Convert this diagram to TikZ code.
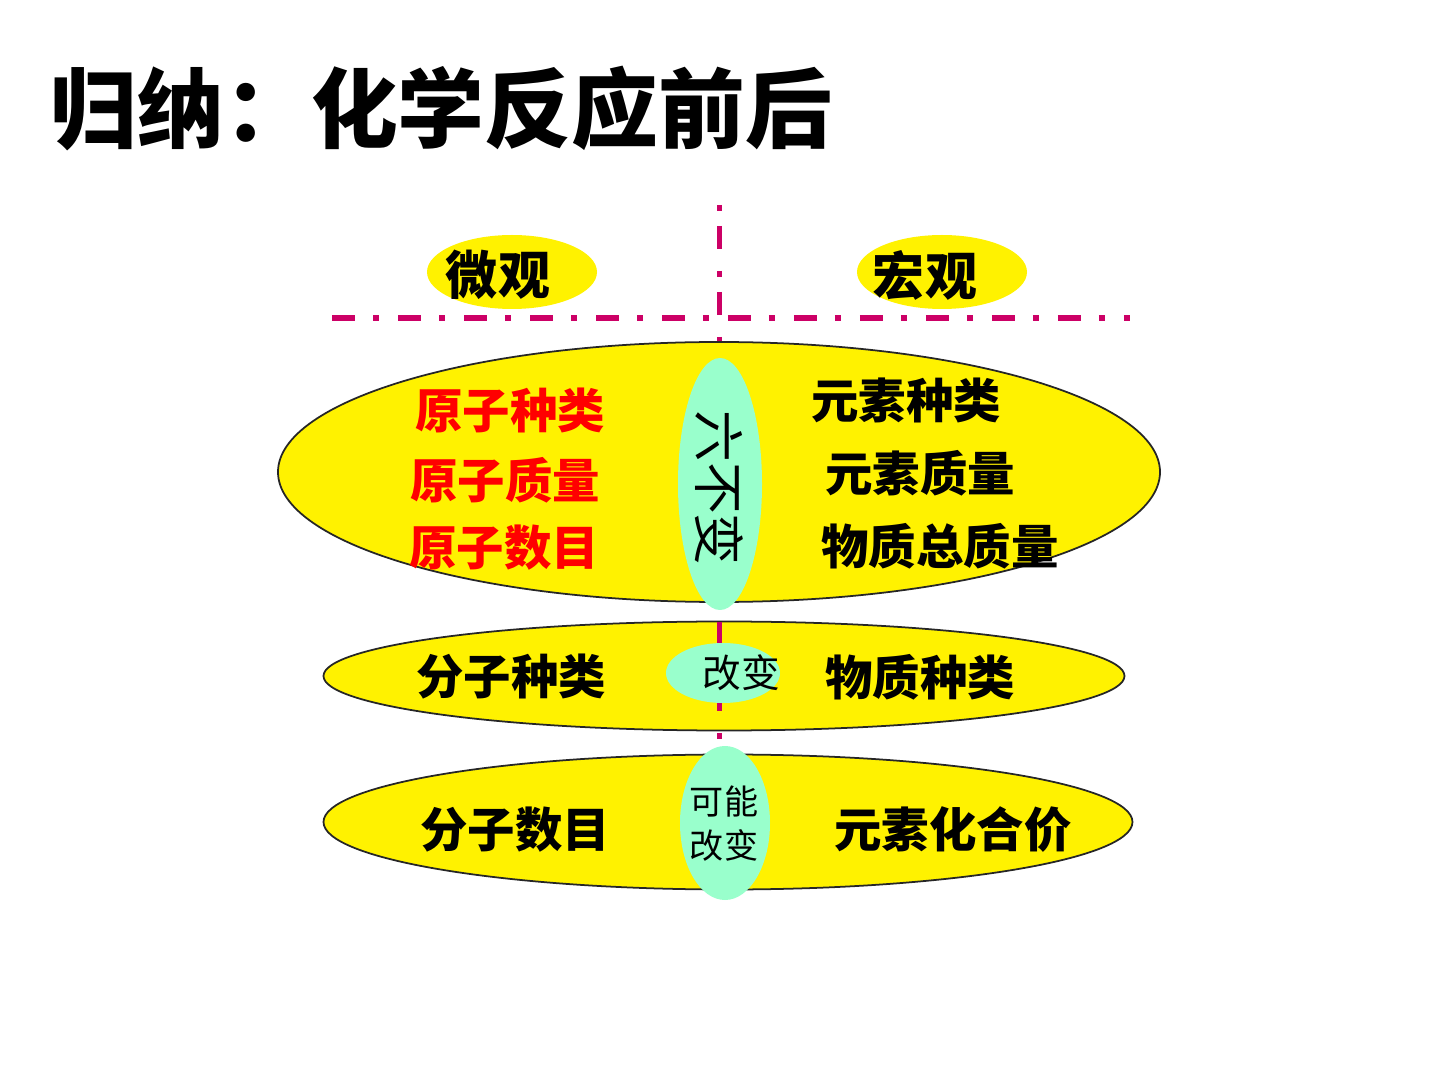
\documentclass[tikz,border=0pt]{standalone}
\usepackage{fontspec}
\newfontfamily\cjk{Noto Sans CJK SC}
\usetikzlibrary{shapes.geometric,positioning}
\definecolor{guide}{RGB}{204,0,102}
\definecolor{mint}{RGB}{153,255,204}

\begin{document}
\begin{tikzpicture}[
  disc/.style={draw=black!85, line width=0.5pt, ellipse, fill=yellow, inner sep=0pt},
  tag/.style={ellipse, fill=yellow, inner sep=0pt, minimum width=1.70cm, minimum height=0.74cm},
  lens/.style={ellipse, fill=mint, inner sep=0pt},
  head/.style={font=\cjk\bfseries\fontsize{14.8}{17}\selectfont, inner sep=0pt},
  item/.style={font=\cjk\bfseries\fontsize{13.5}{16}\selectfont, inner sep=0pt},
  redi/.style={item, text=red},
  word/.style={font=\cjk\fontsize{#1}{#1}\selectfont, inner sep=0pt},
  hline/.style={guide, line width=0.06cm, dash pattern=on 0.23cm off 0.18cm on 0.06cm off 0.19cm},
  vline/.style={guide, line width=0.05cm, dash pattern=on 0.06cm off 0.15cm on 0.23cm off 0.22cm}
]
\fill[white] (0,0) rectangle (14.4,-10.8);
\useasboundingbox (0,0) rectangle (14.4,-10.8);

% title
\node[font=\cjk\bfseries\fontsize{24.7}{30}\selectfont, inner sep=0pt, anchor=west] (title) at (0.50,-1.09) {归纳：化学反应前后};

% heads
\node[tag] (microtag) at (5.12,-2.72) {};
\node[tag] (macrotag) at (9.42,-2.72) {};
\node[head] (micro) at (4.98,-2.75) {微观};
\node[head] (macro) at (9.25,-2.75) {宏观};

% middle band sits under the guide lines
\node[disc, minimum width=8.01cm, minimum height=1.09cm] (mid) at (7.24,-6.76) {};

\coordinate (vtop) at (7.19,-2.05);
\coordinate (vbot) at (7.19,-7.39);
\coordinate (hl) at (3.32,-3.18);
\coordinate (hr) at (11.30,-3.18);
\draw[vline] (vtop) -- (vbot);
\draw[hline] (hl) -- (hr);

\node[disc, minimum width=8.82cm, minimum height=2.60cm] (big) at (7.19,-4.72) {};
\node[disc, minimum width=8.09cm, minimum height=1.35cm] (low) at (7.28,-8.22) {};

% centre lenses
\node[lens, minimum width=0.84cm, minimum height=2.52cm] (keep) at (7.20,-4.84) {};
\node[lens, minimum width=1.14cm, minimum height=0.60cm] (change) at (7.23,-6.73) {};
\node[lens, minimum width=0.90cm, minimum height=1.54cm] (maybe) at (7.25,-8.23) {};
\node[word=14.7, rotate=-90] (keeptxt) at (7.19,-4.88) {六不变};
\node[word=11] (changetxt) at (7.41,-6.73) {改变};
\node[word=9.7, align=center, font=\cjk\fontsize{9.7}{12.5}\selectfont] (maybetxt) at (7.24,-8.24) {可能\\改变};

% six constants
\node[redi] (a1) at (5.10,-4.10) {原子种类};
\node[redi] (a2) at (5.05,-4.80) {原子质量};
\node[redi] (a3) at (5.04,-5.48) {原子数目};
\node[item] (e1) at (9.06,-4.00) {元素种类};
\node[item] (e2) at (9.20,-4.73) {元素质量};
\node[item] (e3) at (9.40,-5.46) {物质总质量};

% changes
\node[item] (m1) at (5.11,-6.77) {分子种类};
\node[item] (s1) at (9.20,-6.77) {物质种类};
\node[item] (m2) at (5.15,-8.30) {分子数目};
\node[item] (v1) at (9.53,-8.30) {元素化合价};
\end{tikzpicture}
\end{document}
